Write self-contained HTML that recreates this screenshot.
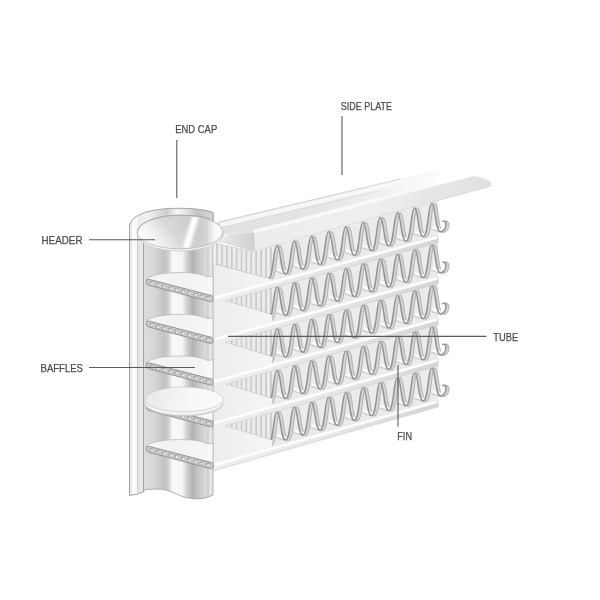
<!DOCTYPE html>
<html><head><meta charset="utf-8"><title>Heat exchanger</title>
<style>html,body{margin:0;padding:0;background:#fff;}body{width:600px;height:600px;overflow:hidden;font-family:"Liberation Sans",sans-serif;}svg{display:block;filter:blur(0.45px);}</style>
</head><body><svg width="600" height="600" viewBox="0 0 600 600">
<defs>
<linearGradient id="gWall" gradientUnits="userSpaceOnUse" x1="143" y1="0" x2="213" y2="0">
 <stop offset="0" stop-color="#dedede"/>
 <stop offset="0.17" stop-color="#d6d6d6"/>
 <stop offset="0.30" stop-color="#c2c2c2"/>
 <stop offset="0.36" stop-color="#cecece"/>
 <stop offset="0.42" stop-color="#f8f8f8"/>
 <stop offset="0.56" stop-color="#f6f6f6"/>
 <stop offset="0.63" stop-color="#d0d0d0"/>
 <stop offset="0.71" stop-color="#b2b2b2"/>
 <stop offset="0.80" stop-color="#c8c8c8"/>
 <stop offset="0.93" stop-color="#dedede"/>
 <stop offset="1" stop-color="#e4e4e4"/>
</linearGradient>
<linearGradient id="gOuter" gradientUnits="userSpaceOnUse" x1="129" y1="0" x2="138" y2="0">
 <stop offset="0" stop-color="#ececec"/>
 <stop offset="0.4" stop-color="#fcfcfc"/>
 <stop offset="1" stop-color="#f6f6f6"/>
</linearGradient>
<linearGradient id="gInner" gradientUnits="userSpaceOnUse" x1="138" y1="0" x2="144" y2="0">
 <stop offset="0" stop-color="#f2f2f2"/>
 <stop offset="1" stop-color="#e4e4e4"/>
</linearGradient>
<linearGradient id="gCap" gradientUnits="userSpaceOnUse" x1="140" y1="247" x2="183" y2="216">
 <stop offset="0" stop-color="#ffffff"/>
 <stop offset="0.3" stop-color="#f6f6f6"/>
 <stop offset="0.65" stop-color="#d9d9d9"/>
 <stop offset="1" stop-color="#cdcdcd"/>
</linearGradient>
<linearGradient id="gCapR" gradientUnits="userSpaceOnUse" x1="200" y1="0" x2="222" y2="0">
 <stop offset="0" stop-color="#ffffff" stop-opacity="0"/>
 <stop offset="0.3" stop-color="#ffffff" stop-opacity="0.15"/>
 <stop offset="0.65" stop-color="#ffffff" stop-opacity="0.85"/>
 <stop offset="1" stop-color="#ffffff" stop-opacity="1"/>
</linearGradient>
<clipPath id="capClip"><ellipse cx="180" cy="232" rx="42.7" ry="16.8"/></clipPath>
<filter id="b2" x="-50%" y="-50%" width="200%" height="200%"><feGaussianBlur stdDeviation="1.6"/></filter>
<filter id="b1" x="-50%" y="-50%" width="200%" height="200%"><feGaussianBlur stdDeviation="0.8"/></filter>
<linearGradient id="gRim" gradientUnits="userSpaceOnUse" x1="129" y1="0" x2="213" y2="0">
 <stop offset="0" stop-color="#e6e6e6"/>
 <stop offset="0.22" stop-color="#f2f2f2"/>
 <stop offset="0.45" stop-color="#cdcdcd"/>
 <stop offset="0.58" stop-color="#f8f8f8"/>
 <stop offset="0.66" stop-color="#e8e8e8"/>
 <stop offset="0.82" stop-color="#c4c4c4"/>
 <stop offset="1" stop-color="#d4d4d4"/>
</linearGradient>
<linearGradient id="gTubeTop" gradientUnits="userSpaceOnUse" x1="147" y1="0" x2="280" y2="0">
 <stop offset="0" stop-color="#f4f4f4"/>
 <stop offset="0.5" stop-color="#ededed"/>
 <stop offset="1" stop-color="#f6f6f6"/>
</linearGradient>
<linearGradient id="gPlateTop" gradientUnits="userSpaceOnUse" x1="219" y1="0" x2="445" y2="0">
 <stop offset="0" stop-color="#e0e0e0"/>
 <stop offset="0.45" stop-color="#e6e6e6"/>
 <stop offset="0.75" stop-color="#f2f2f2"/>
 <stop offset="0.92" stop-color="#fbfbfb"/>
 <stop offset="1" stop-color="#ffffff"/>
</linearGradient>
<linearGradient id="gPlateFront" gradientUnits="userSpaceOnUse" x1="253" y1="0" x2="491" y2="0">
 <stop offset="0" stop-color="#ededed"/>
 <stop offset="0.5" stop-color="#efefef"/>
 <stop offset="0.75" stop-color="#e6e6e6"/>
 <stop offset="1" stop-color="#e1e1e1"/>
</linearGradient>
<linearGradient id="gBaffle" gradientUnits="userSpaceOnUse" x1="144" y1="392" x2="222" y2="408">
 <stop offset="0" stop-color="#e6e6e6"/>
 <stop offset="0.3" stop-color="#f0f0f0"/>
 <stop offset="0.6" stop-color="#f7f7f7"/>
 <stop offset="1" stop-color="#fbfbfb"/>
</linearGradient>
<linearGradient id="gBand" gradientUnits="userSpaceOnUse" x1="213" y1="0" x2="438" y2="0">
 <stop offset="0" stop-color="#efefef"/>
 <stop offset="0.55" stop-color="#e6e6e6"/>
 <stop offset="1" stop-color="#d6d6d6"/>
</linearGradient>
<linearGradient id="gTubeIn" gradientUnits="userSpaceOnUse" x1="147" y1="0" x2="213" y2="0">
 <stop offset="0" stop-color="#f4f4f4"/>
 <stop offset="0.5" stop-color="#f2f2f2"/>
 <stop offset="1" stop-color="#f7f7f7"/>
</linearGradient>
<linearGradient id="gEndFace" gradientUnits="userSpaceOnUse" x1="221" y1="0" x2="254" y2="0">
 <stop offset="0" stop-color="#ececec"/>
 <stop offset="0.45" stop-color="#dcdcdc"/>
 <stop offset="1" stop-color="#d2d2d2"/>
</linearGradient>
<linearGradient id="gHi" gradientUnits="userSpaceOnUse" x1="253" y1="0" x2="474" y2="0">
 <stop offset="0" stop-color="#fbfbfb" stop-opacity="0.9"/>
 <stop offset="0.55" stop-color="#fbfbfb" stop-opacity="0.9"/>
 <stop offset="0.8" stop-color="#fbfbfb" stop-opacity="0"/>
</linearGradient>
</defs>

<path d="M217,222.3 L440,169.5 L474,176 L253,233 L225,234 L221,242 L217,241 Z" fill="url(#gPlateTop)"/>
<path d="M219.5,223 L438,171.5 L440,174 L221,227.5 Z" fill="#f8f8f8" opacity="0.9"/>
<path d="M219,222 L400,179" stroke="#cfcfcf" stroke-width="0.8" fill="none"/>
<path d="M221,227.5 L380,191" stroke="#d8d8d8" stroke-width="0.7" fill="none"/>
<path d="M253,233 L474,176 Q488,178 491,182.5 L491,186 L253,251 Z" fill="url(#gPlateFront)"/>
<path d="M253,231.8 L474,174.8" stroke="url(#gHi)" stroke-width="3.4" fill="none"/>
<path d="M253,251 L491,186" stroke="#d2d2d2" stroke-width="0.8" fill="none"/>
<path d="M227,234.2 L254,232.6 L254,251 L221,241.5 Z" fill="url(#gEndFace)"/>
<path d="M254,232.6 L254,251 L221,241.5" fill="none" stroke="#c4c4c4" stroke-width="0.6"/>
<path d="M262,248.8 L438,201.0 L438,236.0 L262,283.8 Z" fill="#ebebeb"/>
<path d="M214.7,243.0 L253.0,251.7 L272.0,246.5 L272.0,279.0 L268.0,279.5 L214.7,264.0 Z" fill="#ebebeb"/>
<path d="M217.0,244.5 L217.0,263.6 M221.9,245.6 L221.9,264.9 M226.8,246.7 L226.8,266.2 M231.7,247.9 L231.7,267.6 M236.6,249.0 L236.6,268.9 M241.5,250.1 L241.5,270.2 M246.4,251.2 L246.4,271.5 M251.3,252.3 L251.3,272.8 M256.2,251.4 L256.2,274.1 M261.1,250.1 L261.1,275.4 M266.0,248.7 L266.0,276.7 M270.9,247.4 L270.9,278.1 " stroke="#b0b0b0" stroke-width="1.3" fill="none" stroke-linecap="round"/>
<path d="M217.0,244.5 L217.0,263.6 M221.9,245.6 L221.9,264.9 M226.8,246.7 L226.8,266.2 M231.7,247.9 L231.7,267.6 M236.6,249.0 L236.6,268.9 M241.5,250.1 L241.5,270.2 M246.4,251.2 L246.4,271.5 M251.3,252.3 L251.3,272.8 M256.2,251.4 L256.2,274.1 M261.1,250.1 L261.1,275.4 M266.0,248.7 L266.0,276.7 M270.9,247.4 L270.9,278.1 " stroke="#ededed" stroke-width="0.5" fill="none" stroke-linecap="round"/>
<path d="M214.7,264 L266,278 Q271,280 272,275" stroke="#b4b4b4" stroke-width="0.9" fill="none"/>
<path d="M214.7,243 L253,251.7" stroke="#c4c4c4" stroke-width="0.7" fill="none"/>
<clipPath id="rc0"><path d="M262,248.3 L450,197.2 L450,233.7 L262,284.8 Z"/></clipPath>
<g clip-path="url(#rc0)">
<path d="M270.0,278.8 C275.2,278.8 274.8,245.7 278.6,245.7 C282.4,245.7 282.0,274.1 287.2,274.1 C292.4,274.1 292.0,241.1 295.8,241.1 C299.6,241.1 299.2,269.4 304.4,269.4 C309.6,269.4 309.2,236.4 313.0,236.4 C316.8,236.4 316.4,264.7 321.6,264.7 C326.8,264.7 326.4,231.7 330.2,231.7 C334.0,231.7 333.6,260.1 338.8,260.1 C344.0,260.1 343.6,227.0 347.4,227.0 C351.2,227.0 350.8,255.4 356.0,255.4 C361.2,255.4 360.8,222.4 364.6,222.4 C368.4,222.4 368.0,250.7 373.2,250.7 C378.4,250.7 378.0,217.7 381.8,217.7 C385.6,217.7 385.2,246.0 390.4,246.0 C395.6,246.0 395.2,213.0 399.0,213.0 C402.8,213.0 402.4,241.4 407.6,241.4 C412.8,241.4 412.4,208.3 416.2,208.3 C420.0,208.3 419.6,236.7 424.8,236.7 C430.0,236.7 429.6,203.6 433.4,203.6 C437.2,203.6 436.8,232.0 442.0,232.0 C445.5,231.5 447.5,229.0 447.5,224.0 C447.5,222.0 446.0,221.0 444.5,221.5" stroke="#d6d6d6" stroke-width="3" fill="none"/>
<path d="M271.5,279.0 C276.7,279.0 276.3,245.9 280.1,245.9 C283.9,245.9 283.5,274.3 288.7,274.3 C293.9,274.3 293.5,241.3 297.3,241.3 C301.1,241.3 300.7,269.6 305.9,269.6 C311.1,269.6 310.7,236.6 314.5,236.6 C318.3,236.6 317.9,264.9 323.1,264.9 C328.3,264.9 327.9,231.9 331.7,231.9 C335.5,231.9 335.1,260.3 340.3,260.3 C345.5,260.3 345.1,227.2 348.9,227.2 C352.7,227.2 352.3,255.6 357.5,255.6 C362.7,255.6 362.3,222.6 366.1,222.6 C369.9,222.6 369.5,250.9 374.7,250.9 C379.9,250.9 379.5,217.9 383.3,217.9 C387.1,217.9 386.7,246.2 391.9,246.2 C397.1,246.2 396.7,213.2 400.5,213.2 C404.3,213.2 403.9,241.6 409.1,241.6 C414.3,241.6 413.9,208.5 417.7,208.5 C421.5,208.5 421.1,236.9 426.3,236.9 C431.5,236.9 431.1,203.8 434.9,203.8 C438.7,203.8 438.3,232.2 443.5,232.2 C447.0,231.7 449.0,229.2 449.0,224.2 C449.0,222.2 447.5,221.2 446.0,221.7" stroke="#a4a4a4" stroke-width="0.8" fill="none"/>
<path d="M286.6,272.3 L278.6,269.5 M303.8,267.6 L295.8,264.8 M321.0,262.9 L313.0,260.1 M338.2,258.3 L330.2,255.5 M355.4,253.6 L347.4,250.8 M372.6,248.9 L364.6,246.1 M389.8,244.2 L381.8,241.4 M407.0,239.6 L399.0,236.8 M424.2,234.9 L416.2,232.1 M441.4,230.2 L433.4,227.4 " stroke="#fafafa" stroke-width="2.6" fill="none" stroke-linecap="round"/>
<path d="M284.6,274.2 L276.1,271.3 M301.8,269.5 L293.3,266.6 M319.0,264.8 L310.5,261.9 M336.2,260.2 L327.7,257.3 M353.4,255.5 L344.9,252.6 M370.6,250.8 L362.1,247.9 M387.8,246.1 L379.3,243.2 M405.0,241.5 L396.5,238.6 M422.2,236.8 L413.7,233.9 M439.4,232.1 L430.9,229.2 " stroke="#b4b4b4" stroke-width="0.7" fill="none"/>
<path d="M268.4,278.6 C273.6,278.6 273.2,245.5 277.0,245.5 C280.8,245.5 280.4,273.9 285.6,273.9 C290.8,273.9 290.4,240.9 294.2,240.9 C298.0,240.9 297.6,269.2 302.8,269.2 C308.0,269.2 307.6,236.2 311.4,236.2 C315.2,236.2 314.8,264.5 320.0,264.5 C325.2,264.5 324.8,231.5 328.6,231.5 C332.4,231.5 332.0,259.9 337.2,259.9 C342.4,259.9 342.0,226.8 345.8,226.8 C349.6,226.8 349.2,255.2 354.4,255.2 C359.6,255.2 359.2,222.2 363.0,222.2 C366.8,222.2 366.4,250.5 371.6,250.5 C376.8,250.5 376.4,217.5 380.2,217.5 C384.0,217.5 383.6,245.8 388.8,245.8 C394.0,245.8 393.6,212.8 397.4,212.8 C401.2,212.8 400.8,241.2 406.0,241.2 C411.2,241.2 410.8,208.1 414.6,208.1 C418.4,208.1 418.0,236.5 423.2,236.5 C428.4,236.5 428.0,203.4 431.8,203.4 C435.6,203.4 435.2,231.8 440.4,231.8 C443.9,231.3 445.9,228.8 445.9,223.8 C445.9,221.8 444.4,220.8 442.9,221.3" stroke="#939393" stroke-width="1.5" fill="none" stroke-linecap="round"/>
</g>
<path d="M262,290.4 L438,242.0 L438,277.0 L262,325.4 Z" fill="#ebebeb"/>
<path d="M222.0,301.5 L272.0,287.9 L272.0,315.0 L268.0,315.0 L222.0,302.0 Z" fill="#ebebeb"/>
<path d="M231.7,298.8 L231.7,301.7 M236.6,297.5 L236.6,303.2 M241.5,296.1 L241.5,304.7 M246.4,294.8 L246.4,306.2 M251.3,293.5 L251.3,307.7 M256.2,292.2 L256.2,309.2 M261.1,290.8 L261.1,310.7 M266.0,289.5 L266.0,312.2 M270.9,288.2 L270.9,313.7 " stroke="#b0b0b0" stroke-width="1.3" fill="none" stroke-linecap="round"/>
<path d="M231.7,298.8 L231.7,301.7 M236.6,297.5 L236.6,303.2 M241.5,296.1 L241.5,304.7 M246.4,294.8 L246.4,306.2 M251.3,293.5 L251.3,307.7 M256.2,292.2 L256.2,309.2 M261.1,290.8 L261.1,310.7 M266.0,289.5 L266.0,312.2 M270.9,288.2 L270.9,313.7 " stroke="#ededed" stroke-width="0.5" fill="none" stroke-linecap="round"/>
<path d="M224,300.3 L268,313.8 Q271,315.0 272,311.0" stroke="#b8b8b8" stroke-width="0.9" fill="none"/>
<clipPath id="rc1"><path d="M262,289.9 L450,238.2 L450,274.7 L262,326.4 Z"/></clipPath>
<g clip-path="url(#rc1)">
<path d="M270.0,320.4 C275.2,320.4 274.8,287.3 278.6,287.3 C282.4,287.3 282.0,315.6 287.2,315.6 C292.4,315.6 292.0,282.6 295.8,282.6 C299.6,282.6 299.2,310.9 304.4,310.9 C309.6,310.9 309.2,277.8 313.0,277.8 C316.8,277.8 316.4,306.2 321.6,306.2 C326.8,306.2 326.4,273.1 330.2,273.1 C334.0,273.1 333.6,301.4 338.8,301.4 C344.0,301.4 343.6,268.4 347.4,268.4 C351.2,268.4 350.8,296.7 356.0,296.7 C361.2,296.7 360.8,263.6 364.6,263.6 C368.4,263.6 368.0,292.0 373.2,292.0 C378.4,292.0 378.0,258.9 381.8,258.9 C385.6,258.9 385.2,287.2 390.4,287.2 C395.6,287.2 395.2,254.2 399.0,254.2 C402.8,254.2 402.4,282.5 407.6,282.5 C412.8,282.5 412.4,249.4 416.2,249.4 C420.0,249.4 419.6,277.8 424.8,277.8 C430.0,277.8 429.6,244.7 433.4,244.7 C437.2,244.7 436.8,273.0 442.0,273.0 C445.5,272.5 447.5,270.0 447.5,265.0 C447.5,263.0 446.0,262.0 444.5,262.5" stroke="#d6d6d6" stroke-width="3" fill="none"/>
<path d="M271.5,320.6 C276.7,320.6 276.3,287.5 280.1,287.5 C283.9,287.5 283.5,315.8 288.7,315.8 C293.9,315.8 293.5,282.8 297.3,282.8 C301.1,282.8 300.7,311.1 305.9,311.1 C311.1,311.1 310.7,278.0 314.5,278.0 C318.3,278.0 317.9,306.4 323.1,306.4 C328.3,306.4 327.9,273.3 331.7,273.3 C335.5,273.3 335.1,301.6 340.3,301.6 C345.5,301.6 345.1,268.6 348.9,268.6 C352.7,268.6 352.3,296.9 357.5,296.9 C362.7,296.9 362.3,263.8 366.1,263.8 C369.9,263.8 369.5,292.2 374.7,292.2 C379.9,292.2 379.5,259.1 383.3,259.1 C387.1,259.1 386.7,287.4 391.9,287.4 C397.1,287.4 396.7,254.4 400.5,254.4 C404.3,254.4 403.9,282.7 409.1,282.7 C414.3,282.7 413.9,249.6 417.7,249.6 C421.5,249.6 421.1,278.0 426.3,278.0 C431.5,278.0 431.1,244.9 434.9,244.9 C438.7,244.9 438.3,273.2 443.5,273.2 C447.0,272.7 449.0,270.2 449.0,265.2 C449.0,263.2 447.5,262.2 446.0,262.7" stroke="#a4a4a4" stroke-width="0.8" fill="none"/>
<path d="M286.6,313.8 L278.6,311.0 M303.8,309.1 L295.8,306.3 M321.0,304.4 L313.0,301.6 M338.2,299.6 L330.2,296.8 M355.4,294.9 L347.4,292.1 M372.6,290.2 L364.6,287.4 M389.8,285.4 L381.8,282.6 M407.0,280.7 L399.0,277.9 M424.2,276.0 L416.2,273.2 M441.4,271.2 L433.4,268.4 " stroke="#fafafa" stroke-width="2.6" fill="none" stroke-linecap="round"/>
<path d="M284.6,315.7 L276.1,312.8 M301.8,311.0 L293.3,308.1 M319.0,306.3 L310.5,303.4 M336.2,301.5 L327.7,298.6 M353.4,296.8 L344.9,293.9 M370.6,292.1 L362.1,289.2 M387.8,287.3 L379.3,284.4 M405.0,282.6 L396.5,279.7 M422.2,277.9 L413.7,275.0 M439.4,273.1 L430.9,270.2 " stroke="#b4b4b4" stroke-width="0.7" fill="none"/>
<path d="M268.4,320.2 C273.6,320.2 273.2,287.1 277.0,287.1 C280.8,287.1 280.4,315.4 285.6,315.4 C290.8,315.4 290.4,282.4 294.2,282.4 C298.0,282.4 297.6,310.7 302.8,310.7 C308.0,310.7 307.6,277.6 311.4,277.6 C315.2,277.6 314.8,306.0 320.0,306.0 C325.2,306.0 324.8,272.9 328.6,272.9 C332.4,272.9 332.0,301.2 337.2,301.2 C342.4,301.2 342.0,268.2 345.8,268.2 C349.6,268.2 349.2,296.5 354.4,296.5 C359.6,296.5 359.2,263.4 363.0,263.4 C366.8,263.4 366.4,291.8 371.6,291.8 C376.8,291.8 376.4,258.7 380.2,258.7 C384.0,258.7 383.6,287.0 388.8,287.0 C394.0,287.0 393.6,254.0 397.4,254.0 C401.2,254.0 400.8,282.3 406.0,282.3 C411.2,282.3 410.8,249.2 414.6,249.2 C418.4,249.2 418.0,277.6 423.2,277.6 C428.4,277.6 428.0,244.5 431.8,244.5 C435.6,244.5 435.2,272.8 440.4,272.8 C443.9,272.3 445.9,269.8 445.9,264.8 C445.9,262.8 444.4,261.8 442.9,262.3" stroke="#939393" stroke-width="1.5" fill="none" stroke-linecap="round"/>
</g>
<path d="M262,332.0 L438,283.1 L438,318.1 L262,367.0 Z" fill="#ebebeb"/>
<path d="M222.0,343.2 L272.0,329.6 L272.0,356.8 L268.0,356.8 L222.0,343.7 Z" fill="#ebebeb"/>
<path d="M231.7,340.6 L231.7,343.4 M236.6,339.2 L236.6,344.9 M241.5,337.9 L241.5,346.4 M246.4,336.6 L246.4,347.9 M251.3,335.2 L251.3,349.4 M256.2,333.9 L256.2,350.9 M261.1,332.6 L261.1,352.4 M266.0,331.2 L266.0,353.9 M270.9,329.9 L270.9,355.4 " stroke="#b0b0b0" stroke-width="1.3" fill="none" stroke-linecap="round"/>
<path d="M231.7,340.6 L231.7,343.4 M236.6,339.2 L236.6,344.9 M241.5,337.9 L241.5,346.4 M246.4,336.6 L246.4,347.9 M251.3,335.2 L251.3,349.4 M256.2,333.9 L256.2,350.9 M261.1,332.6 L261.1,352.4 M266.0,331.2 L266.0,353.9 M270.9,329.9 L270.9,355.4 " stroke="#ededed" stroke-width="0.5" fill="none" stroke-linecap="round"/>
<path d="M224,342.1 L268,355.6 Q271,356.8 272,352.8" stroke="#b8b8b8" stroke-width="0.9" fill="none"/>
<clipPath id="rc2"><path d="M262,331.5 L450,279.2 L450,315.7 L262,368.0 Z"/></clipPath>
<g clip-path="url(#rc2)">
<path d="M270.0,361.9 C275.2,361.9 274.8,328.8 278.6,328.8 C282.4,328.8 282.0,357.2 287.2,357.2 C292.4,357.2 292.0,324.1 295.8,324.1 C299.6,324.1 299.2,352.4 304.4,352.4 C309.6,352.4 309.2,319.3 313.0,319.3 C316.8,319.3 316.4,347.6 321.6,347.6 C326.8,347.6 326.4,314.5 330.2,314.5 C334.0,314.5 333.6,342.8 338.8,342.8 C344.0,342.8 343.6,309.7 347.4,309.7 C351.2,309.7 350.8,338.0 356.0,338.0 C361.2,338.0 360.8,304.9 364.6,304.9 C368.4,304.9 368.0,333.2 373.2,333.2 C378.4,333.2 378.0,300.1 381.8,300.1 C385.6,300.1 385.2,328.4 390.4,328.4 C395.6,328.4 395.2,295.3 399.0,295.3 C402.8,295.3 402.4,323.7 407.6,323.7 C412.8,323.7 412.4,290.6 416.2,290.6 C420.0,290.6 419.6,318.9 424.8,318.9 C430.0,318.9 429.6,285.8 433.4,285.8 C437.2,285.8 436.8,314.1 442.0,314.1 C445.5,313.6 447.5,311.1 447.5,306.1 C447.5,304.1 446.0,303.1 444.5,303.6" stroke="#d6d6d6" stroke-width="3" fill="none"/>
<path d="M271.5,362.1 C276.7,362.1 276.3,329.0 280.1,329.0 C283.9,329.0 283.5,357.4 288.7,357.4 C293.9,357.4 293.5,324.3 297.3,324.3 C301.1,324.3 300.7,352.6 305.9,352.6 C311.1,352.6 310.7,319.5 314.5,319.5 C318.3,319.5 317.9,347.8 323.1,347.8 C328.3,347.8 327.9,314.7 331.7,314.7 C335.5,314.7 335.1,343.0 340.3,343.0 C345.5,343.0 345.1,309.9 348.9,309.9 C352.7,309.9 352.3,338.2 357.5,338.2 C362.7,338.2 362.3,305.1 366.1,305.1 C369.9,305.1 369.5,333.4 374.7,333.4 C379.9,333.4 379.5,300.3 383.3,300.3 C387.1,300.3 386.7,328.6 391.9,328.6 C397.1,328.6 396.7,295.5 400.5,295.5 C404.3,295.5 403.9,323.9 409.1,323.9 C414.3,323.9 413.9,290.8 417.7,290.8 C421.5,290.8 421.1,319.1 426.3,319.1 C431.5,319.1 431.1,286.0 434.9,286.0 C438.7,286.0 438.3,314.3 443.5,314.3 C447.0,313.8 449.0,311.3 449.0,306.3 C449.0,304.3 447.5,303.3 446.0,303.8" stroke="#a4a4a4" stroke-width="0.8" fill="none"/>
<path d="M286.6,355.4 L278.6,352.6 M303.8,350.6 L295.8,347.8 M321.0,345.8 L313.0,343.0 M338.2,341.0 L330.2,338.2 M355.4,336.2 L347.4,333.4 M372.6,331.4 L364.6,328.6 M389.8,326.6 L381.8,323.8 M407.0,321.9 L399.0,319.1 M424.2,317.1 L416.2,314.3 M441.4,312.3 L433.4,309.5 " stroke="#fafafa" stroke-width="2.6" fill="none" stroke-linecap="round"/>
<path d="M284.6,357.3 L276.1,354.4 M301.8,352.5 L293.3,349.6 M319.0,347.7 L310.5,344.8 M336.2,342.9 L327.7,340.0 M353.4,338.1 L344.9,335.2 M370.6,333.3 L362.1,330.4 M387.8,328.5 L379.3,325.6 M405.0,323.8 L396.5,320.9 M422.2,319.0 L413.7,316.1 M439.4,314.2 L430.9,311.3 " stroke="#b4b4b4" stroke-width="0.7" fill="none"/>
<path d="M268.4,361.7 C273.6,361.7 273.2,328.6 277.0,328.6 C280.8,328.6 280.4,357.0 285.6,357.0 C290.8,357.0 290.4,323.9 294.2,323.9 C298.0,323.9 297.6,352.2 302.8,352.2 C308.0,352.2 307.6,319.1 311.4,319.1 C315.2,319.1 314.8,347.4 320.0,347.4 C325.2,347.4 324.8,314.3 328.6,314.3 C332.4,314.3 332.0,342.6 337.2,342.6 C342.4,342.6 342.0,309.5 345.8,309.5 C349.6,309.5 349.2,337.8 354.4,337.8 C359.6,337.8 359.2,304.7 363.0,304.7 C366.8,304.7 366.4,333.0 371.6,333.0 C376.8,333.0 376.4,299.9 380.2,299.9 C384.0,299.9 383.6,328.2 388.8,328.2 C394.0,328.2 393.6,295.1 397.4,295.1 C401.2,295.1 400.8,323.5 406.0,323.5 C411.2,323.5 410.8,290.4 414.6,290.4 C418.4,290.4 418.0,318.7 423.2,318.7 C428.4,318.7 428.0,285.6 431.8,285.6 C435.6,285.6 435.2,313.9 440.4,313.9 C443.9,313.4 445.9,310.9 445.9,305.9 C445.9,303.9 444.4,302.9 442.9,303.4" stroke="#939393" stroke-width="1.5" fill="none" stroke-linecap="round"/>
</g>
<path d="M262,373.6 L438,324.1 L438,359.1 L262,408.6 Z" fill="#ebebeb"/>
<path d="M222.0,385.0 L272.0,371.4 L272.0,398.5 L268.0,398.5 L222.0,385.5 Z" fill="#ebebeb"/>
<path d="M231.7,382.3 L231.7,385.2 M236.6,381.0 L236.6,386.7 M241.5,379.6 L241.5,388.2 M246.4,378.3 L246.4,389.7 M251.3,377.0 L251.3,391.2 M256.2,375.7 L256.2,392.7 M261.1,374.3 L261.1,394.2 M266.0,373.0 L266.0,395.7 M270.9,371.7 L270.9,397.2 " stroke="#b0b0b0" stroke-width="1.3" fill="none" stroke-linecap="round"/>
<path d="M231.7,382.3 L231.7,385.2 M236.6,381.0 L236.6,386.7 M241.5,379.6 L241.5,388.2 M246.4,378.3 L246.4,389.7 M251.3,377.0 L251.3,391.2 M256.2,375.7 L256.2,392.7 M261.1,374.3 L261.1,394.2 M266.0,373.0 L266.0,395.7 M270.9,371.7 L270.9,397.2 " stroke="#ededed" stroke-width="0.5" fill="none" stroke-linecap="round"/>
<path d="M224,383.8 L268,397.3 Q271,398.5 272,394.5" stroke="#b8b8b8" stroke-width="0.9" fill="none"/>
<clipPath id="rc3"><path d="M262,373.1 L450,320.2 L450,356.7 L262,409.6 Z"/></clipPath>
<g clip-path="url(#rc3)">
<path d="M270.0,403.5 C275.2,403.5 274.8,370.4 278.6,370.4 C282.4,370.4 282.0,398.7 287.2,398.7 C292.4,398.7 292.0,365.6 295.8,365.6 C299.6,365.6 299.2,393.8 304.4,393.8 C309.6,393.8 309.2,360.7 313.0,360.7 C316.8,360.7 316.4,389.0 321.6,389.0 C326.8,389.0 326.4,355.9 330.2,355.9 C334.0,355.9 333.6,384.2 338.8,384.2 C344.0,384.2 343.6,351.0 347.4,351.0 C351.2,351.0 350.8,379.3 356.0,379.3 C361.2,379.3 360.8,346.2 364.6,346.2 C368.4,346.2 368.0,374.5 373.2,374.5 C378.4,374.5 378.0,341.4 381.8,341.4 C385.6,341.4 385.2,369.6 390.4,369.6 C395.6,369.6 395.2,336.5 399.0,336.5 C402.8,336.5 402.4,364.8 407.6,364.8 C412.8,364.8 412.4,331.7 416.2,331.7 C420.0,331.7 419.6,360.0 424.8,360.0 C430.0,360.0 429.6,326.8 433.4,326.8 C437.2,326.8 436.8,355.1 442.0,355.1 C445.5,354.6 447.5,352.1 447.5,347.1 C447.5,345.1 446.0,344.1 444.5,344.6" stroke="#d6d6d6" stroke-width="3" fill="none"/>
<path d="M271.5,403.7 C276.7,403.7 276.3,370.6 280.1,370.6 C283.9,370.6 283.5,398.9 288.7,398.9 C293.9,398.9 293.5,365.8 297.3,365.8 C301.1,365.8 300.7,394.0 305.9,394.0 C311.1,394.0 310.7,360.9 314.5,360.9 C318.3,360.9 317.9,389.2 323.1,389.2 C328.3,389.2 327.9,356.1 331.7,356.1 C335.5,356.1 335.1,384.4 340.3,384.4 C345.5,384.4 345.1,351.2 348.9,351.2 C352.7,351.2 352.3,379.5 357.5,379.5 C362.7,379.5 362.3,346.4 366.1,346.4 C369.9,346.4 369.5,374.7 374.7,374.7 C379.9,374.7 379.5,341.6 383.3,341.6 C387.1,341.6 386.7,369.8 391.9,369.8 C397.1,369.8 396.7,336.7 400.5,336.7 C404.3,336.7 403.9,365.0 409.1,365.0 C414.3,365.0 413.9,331.9 417.7,331.9 C421.5,331.9 421.1,360.2 426.3,360.2 C431.5,360.2 431.1,327.0 434.9,327.0 C438.7,327.0 438.3,355.3 443.5,355.3 C447.0,354.8 449.0,352.3 449.0,347.3 C449.0,345.3 447.5,344.3 446.0,344.8" stroke="#a4a4a4" stroke-width="0.8" fill="none"/>
<path d="M286.6,396.9 L278.6,394.1 M303.8,392.0 L295.8,389.2 M321.0,387.2 L313.0,384.4 M338.2,382.4 L330.2,379.6 M355.4,377.5 L347.4,374.7 M372.6,372.7 L364.6,369.9 M389.8,367.8 L381.8,365.0 M407.0,363.0 L399.0,360.2 M424.2,358.2 L416.2,355.4 M441.4,353.3 L433.4,350.5 " stroke="#fafafa" stroke-width="2.6" fill="none" stroke-linecap="round"/>
<path d="M284.6,398.8 L276.1,395.9 M301.8,393.9 L293.3,391.0 M319.0,389.1 L310.5,386.2 M336.2,384.3 L327.7,381.4 M353.4,379.4 L344.9,376.5 M370.6,374.6 L362.1,371.7 M387.8,369.7 L379.3,366.8 M405.0,364.9 L396.5,362.0 M422.2,360.1 L413.7,357.2 M439.4,355.2 L430.9,352.3 " stroke="#b4b4b4" stroke-width="0.7" fill="none"/>
<path d="M268.4,403.3 C273.6,403.3 273.2,370.2 277.0,370.2 C280.8,370.2 280.4,398.5 285.6,398.5 C290.8,398.5 290.4,365.4 294.2,365.4 C298.0,365.4 297.6,393.6 302.8,393.6 C308.0,393.6 307.6,360.5 311.4,360.5 C315.2,360.5 314.8,388.8 320.0,388.8 C325.2,388.8 324.8,355.7 328.6,355.7 C332.4,355.7 332.0,384.0 337.2,384.0 C342.4,384.0 342.0,350.8 345.8,350.8 C349.6,350.8 349.2,379.1 354.4,379.1 C359.6,379.1 359.2,346.0 363.0,346.0 C366.8,346.0 366.4,374.3 371.6,374.3 C376.8,374.3 376.4,341.2 380.2,341.2 C384.0,341.2 383.6,369.4 388.8,369.4 C394.0,369.4 393.6,336.3 397.4,336.3 C401.2,336.3 400.8,364.6 406.0,364.6 C411.2,364.6 410.8,331.5 414.6,331.5 C418.4,331.5 418.0,359.8 423.2,359.8 C428.4,359.8 428.0,326.6 431.8,326.6 C435.6,326.6 435.2,354.9 440.4,354.9 C443.9,354.4 445.9,351.9 445.9,346.9 C445.9,344.9 444.4,343.9 442.9,344.4" stroke="#939393" stroke-width="1.5" fill="none" stroke-linecap="round"/>
</g>
<path d="M262,415.2 L438,365.2 L438,400.2 L262,450.2 Z" fill="#ebebeb"/>
<path d="M222.0,426.7 L272.0,413.1 L272.0,440.2 L268.0,440.2 L222.0,427.2 Z" fill="#ebebeb"/>
<path d="M231.7,424.1 L231.7,426.9 M236.6,422.7 L236.6,428.4 M241.5,421.4 L241.5,429.9 M246.4,420.1 L246.4,431.4 M251.3,418.7 L251.3,432.9 M256.2,417.4 L256.2,434.4 M261.1,416.1 L261.1,435.9 M266.0,414.7 L266.0,437.4 M270.9,413.4 L270.9,438.9 " stroke="#b0b0b0" stroke-width="1.3" fill="none" stroke-linecap="round"/>
<path d="M231.7,424.1 L231.7,426.9 M236.6,422.7 L236.6,428.4 M241.5,421.4 L241.5,429.9 M246.4,420.1 L246.4,431.4 M251.3,418.7 L251.3,432.9 M256.2,417.4 L256.2,434.4 M261.1,416.1 L261.1,435.9 M266.0,414.7 L266.0,437.4 M270.9,413.4 L270.9,438.9 " stroke="#ededed" stroke-width="0.5" fill="none" stroke-linecap="round"/>
<path d="M224,425.6 L268,439.1 Q271,440.2 272,436.2" stroke="#b8b8b8" stroke-width="0.9" fill="none"/>
<clipPath id="rc4"><path d="M262,414.7 L450,361.2 L450,397.7 L262,451.2 Z"/></clipPath>
<g clip-path="url(#rc4)">
<path d="M270.0,445.1 C275.2,445.1 274.8,411.9 278.6,411.9 C282.4,411.9 282.0,440.2 287.2,440.2 C292.4,440.2 292.0,407.1 295.8,407.1 C299.6,407.1 299.2,435.3 304.4,435.3 C309.6,435.3 309.2,402.2 313.0,402.2 C316.8,402.2 316.4,430.4 321.6,430.4 C326.8,430.4 326.4,397.3 330.2,397.3 C334.0,397.3 333.6,425.5 338.8,425.5 C344.0,425.5 343.6,392.4 347.4,392.4 C351.2,392.4 350.8,420.6 356.0,420.6 C361.2,420.6 360.8,387.5 364.6,387.5 C368.4,387.5 368.0,415.7 373.2,415.7 C378.4,415.7 378.0,382.6 381.8,382.6 C385.6,382.6 385.2,410.8 390.4,410.8 C395.6,410.8 395.2,377.7 399.0,377.7 C402.8,377.7 402.4,406.0 407.6,406.0 C412.8,406.0 412.4,372.8 416.2,372.8 C420.0,372.8 419.6,401.1 424.8,401.1 C430.0,401.1 429.6,367.9 433.4,367.9 C437.2,367.9 436.8,396.2 442.0,396.2 C445.5,395.7 447.5,393.2 447.5,388.2 C447.5,386.2 446.0,385.2 444.5,385.7" stroke="#d6d6d6" stroke-width="3" fill="none"/>
<path d="M271.5,445.3 C276.7,445.3 276.3,412.1 280.1,412.1 C283.9,412.1 283.5,440.4 288.7,440.4 C293.9,440.4 293.5,407.3 297.3,407.3 C301.1,407.3 300.7,435.5 305.9,435.5 C311.1,435.5 310.7,402.4 314.5,402.4 C318.3,402.4 317.9,430.6 323.1,430.6 C328.3,430.6 327.9,397.5 331.7,397.5 C335.5,397.5 335.1,425.7 340.3,425.7 C345.5,425.7 345.1,392.6 348.9,392.6 C352.7,392.6 352.3,420.8 357.5,420.8 C362.7,420.8 362.3,387.7 366.1,387.7 C369.9,387.7 369.5,415.9 374.7,415.9 C379.9,415.9 379.5,382.8 383.3,382.8 C387.1,382.8 386.7,411.0 391.9,411.0 C397.1,411.0 396.7,377.9 400.5,377.9 C404.3,377.9 403.9,406.2 409.1,406.2 C414.3,406.2 413.9,373.0 417.7,373.0 C421.5,373.0 421.1,401.3 426.3,401.3 C431.5,401.3 431.1,368.1 434.9,368.1 C438.7,368.1 438.3,396.4 443.5,396.4 C447.0,395.9 449.0,393.4 449.0,388.4 C449.0,386.4 447.5,385.4 446.0,385.9" stroke="#a4a4a4" stroke-width="0.8" fill="none"/>
<path d="M286.6,438.4 L278.6,435.6 M303.8,433.5 L295.8,430.7 M321.0,428.6 L313.0,425.8 M338.2,423.7 L330.2,420.9 M355.4,418.8 L347.4,416.0 M372.6,413.9 L364.6,411.1 M389.8,409.0 L381.8,406.2 M407.0,404.2 L399.0,401.4 M424.2,399.3 L416.2,396.5 M441.4,394.4 L433.4,391.6 " stroke="#fafafa" stroke-width="2.6" fill="none" stroke-linecap="round"/>
<path d="M284.6,440.3 L276.1,437.4 M301.8,435.4 L293.3,432.5 M319.0,430.5 L310.5,427.6 M336.2,425.6 L327.7,422.7 M353.4,420.7 L344.9,417.8 M370.6,415.8 L362.1,412.9 M387.8,410.9 L379.3,408.0 M405.0,406.1 L396.5,403.2 M422.2,401.2 L413.7,398.3 M439.4,396.3 L430.9,393.4 " stroke="#b4b4b4" stroke-width="0.7" fill="none"/>
<path d="M268.4,444.9 C273.6,444.9 273.2,411.7 277.0,411.7 C280.8,411.7 280.4,440.0 285.6,440.0 C290.8,440.0 290.4,406.9 294.2,406.9 C298.0,406.9 297.6,435.1 302.8,435.1 C308.0,435.1 307.6,402.0 311.4,402.0 C315.2,402.0 314.8,430.2 320.0,430.2 C325.2,430.2 324.8,397.1 328.6,397.1 C332.4,397.1 332.0,425.3 337.2,425.3 C342.4,425.3 342.0,392.2 345.8,392.2 C349.6,392.2 349.2,420.4 354.4,420.4 C359.6,420.4 359.2,387.3 363.0,387.3 C366.8,387.3 366.4,415.5 371.6,415.5 C376.8,415.5 376.4,382.4 380.2,382.4 C384.0,382.4 383.6,410.6 388.8,410.6 C394.0,410.6 393.6,377.5 397.4,377.5 C401.2,377.5 400.8,405.8 406.0,405.8 C411.2,405.8 410.8,372.6 414.6,372.6 C418.4,372.6 418.0,400.9 423.2,400.9 C428.4,400.9 428.0,367.7 431.8,367.7 C435.6,367.7 435.2,396.0 440.4,396.0 C443.9,395.5 445.9,393.0 445.9,388.0 C445.9,386.0 444.4,385.0 442.9,385.5" stroke="#939393" stroke-width="1.5" fill="none" stroke-linecap="round"/>
</g>
<path d="M213.0,264.0 L272.0,279.5 L272.0,281.1 L213.0,297.0 Z" fill="url(#gTubeTop)"/>
<path d="M213,297.2 L438,236.0 L438,242.7 L213,303.9 Z" fill="url(#gBand)"/>
<path d="M213,298.4 L438,237.2" stroke="#fdfdfd" stroke-width="2.6" fill="none"/>
<path d="M213,303.9 L438,242.7" stroke="#c9c9c9" stroke-width="0.6" fill="none"/>
<path d="M438,236.0 L438,242.7" stroke="#bdbdbd" stroke-width="0.7" fill="none"/>
<path d="M213.0,303.0 L224.0,300.3 L272.0,315.0 L272.0,322.9 L213.0,338.8 Z" fill="url(#gTubeTop)"/>
<path d="M213,338.9 L438,277.0 L438,283.8 L213,345.7 Z" fill="url(#gBand)"/>
<path d="M213,340.1 L438,278.2" stroke="#fdfdfd" stroke-width="2.6" fill="none"/>
<path d="M213,345.7 L438,283.8" stroke="#c9c9c9" stroke-width="0.6" fill="none"/>
<path d="M438,277.0 L438,283.8" stroke="#bdbdbd" stroke-width="0.7" fill="none"/>
<path d="M213.0,344.8 L224.0,342.1 L272.0,356.8 L272.0,364.6 L213.0,380.5 Z" fill="url(#gTubeTop)"/>
<path d="M213,380.7 L438,318.1 L438,324.8 L213,387.4 Z" fill="url(#gBand)"/>
<path d="M213,381.9 L438,319.3" stroke="#fdfdfd" stroke-width="2.6" fill="none"/>
<path d="M213,387.4 L438,324.8" stroke="#c9c9c9" stroke-width="0.6" fill="none"/>
<path d="M438,318.1 L438,324.8" stroke="#bdbdbd" stroke-width="0.7" fill="none"/>
<path d="M213.0,386.5 L224.0,383.8 L272.0,398.5 L272.0,406.4 L213.0,422.2 Z" fill="url(#gTubeTop)"/>
<path d="M213,422.4 L438,359.1 L438,365.9 L213,429.2 Z" fill="url(#gBand)"/>
<path d="M213,423.6 L438,360.3" stroke="#fdfdfd" stroke-width="2.6" fill="none"/>
<path d="M213,429.2 L438,365.9" stroke="#c9c9c9" stroke-width="0.6" fill="none"/>
<path d="M438,359.1 L438,365.9" stroke="#bdbdbd" stroke-width="0.7" fill="none"/>
<path d="M213.0,428.2 L224.0,425.6 L272.0,440.2 L272.0,448.1 L213.0,464.0 Z" fill="url(#gTubeTop)"/>
<path d="M213,464.2 L438,400.2 L438,406.9 L213,470.9 Z" fill="url(#gBand)"/>
<path d="M213,465.4 L438,401.4" stroke="#fdfdfd" stroke-width="2.6" fill="none"/>
<path d="M213,470.9 L438,406.9" stroke="#c9c9c9" stroke-width="0.6" fill="none"/>
<path d="M438,400.2 L438,406.9" stroke="#bdbdbd" stroke-width="0.7" fill="none"/>
<path d="M143.5,232 L143.5,492 L145,489.5 L158,489 C168,489 174,493.5 184,497 C192,499 200,500 208,497 L213,495 L213,221 Z" fill="url(#gWall)"/>
<path d="M208,221 L213,221 L213,495 L208,497 Z" fill="#e4e4e4"/>
<path d="M208,240 L208,497" stroke="#b4b4b4" stroke-width="0.7" fill="none"/>
<path d="M213,213 L213,495" stroke="#a8a8a8" stroke-width="0.8" fill="none"/>
<path d="M143.5,492 L145,489.5 L158,489 C168,489 174,493.5 184,497 C192,499 200,500 208,497 L213,495" stroke="#a6a6a6" stroke-width="0.9" fill="none"/>
<path d="M146.5,278.5 C154,274.0 166,272.6 179,272.6 C192,272.3 201,274.0 208,277.0 L213,276.0 L213,296.0 L146.5,279.5 Z" fill="url(#gTubeIn)" stroke="#b4b4b4" stroke-width="0.7"/>
<path d="M148.5,279.2 L211.5,295.6 Q213.5,296.4 213.3,298.8 Q213.3,302.2 210.5,301.6 L148.5,285.2 Q146,284.4 146.2,281.8 Q146.3,278.8 148.5,279.2 Z" fill="#cbcbcb" stroke="#8f8f8f" stroke-width="0.9"/>
<rect x="149.4" y="281.3" width="4.4" height="3.6" rx="1.2" fill="#a6a6a6" transform="rotate(14.6 151.6 283.1)"/>
<ellipse cx="152.0" cy="283.5" rx="1.5" ry="1.2" fill="#e6e6e6"/>
<rect x="155.7" y="282.9" width="4.4" height="3.6" rx="1.2" fill="#a6a6a6" transform="rotate(14.6 157.9 284.7)"/>
<ellipse cx="158.3" cy="285.1" rx="1.5" ry="1.2" fill="#e6e6e6"/>
<rect x="161.9" y="284.6" width="4.4" height="3.6" rx="1.2" fill="#a6a6a6" transform="rotate(14.6 164.1 286.4)"/>
<ellipse cx="164.5" cy="286.8" rx="1.5" ry="1.2" fill="#e6e6e6"/>
<rect x="168.2" y="286.2" width="4.4" height="3.6" rx="1.2" fill="#a6a6a6" transform="rotate(14.6 170.4 288.0)"/>
<ellipse cx="170.8" cy="288.4" rx="1.5" ry="1.2" fill="#e6e6e6"/>
<rect x="174.4" y="287.8" width="4.4" height="3.6" rx="1.2" fill="#a6a6a6" transform="rotate(14.6 176.6 289.6)"/>
<ellipse cx="177.0" cy="290.0" rx="1.5" ry="1.2" fill="#e6e6e6"/>
<rect x="180.7" y="289.5" width="4.4" height="3.6" rx="1.2" fill="#a6a6a6" transform="rotate(14.6 182.9 291.3)"/>
<ellipse cx="183.3" cy="291.7" rx="1.5" ry="1.2" fill="#e6e6e6"/>
<rect x="186.9" y="291.1" width="4.4" height="3.6" rx="1.2" fill="#a6a6a6" transform="rotate(14.6 189.1 292.9)"/>
<ellipse cx="189.5" cy="293.3" rx="1.5" ry="1.2" fill="#e6e6e6"/>
<rect x="193.2" y="292.7" width="4.4" height="3.6" rx="1.2" fill="#a6a6a6" transform="rotate(14.6 195.4 294.5)"/>
<ellipse cx="195.8" cy="294.9" rx="1.5" ry="1.2" fill="#e6e6e6"/>
<rect x="199.4" y="294.4" width="4.4" height="3.6" rx="1.2" fill="#a6a6a6" transform="rotate(14.6 201.6 296.2)"/>
<ellipse cx="202.0" cy="296.6" rx="1.5" ry="1.2" fill="#e6e6e6"/>
<rect x="205.7" y="296.0" width="4.4" height="3.6" rx="1.2" fill="#a6a6a6" transform="rotate(14.6 207.9 297.8)"/>
<ellipse cx="208.3" cy="298.2" rx="1.5" ry="1.2" fill="#e6e6e6"/>
<path d="M146.5,320.2 C154,315.8 166,314.4 179,314.4 C192,314.1 201,315.8 208,318.8 L213,317.8 L213,337.8 L146.5,321.2 Z" fill="url(#gTubeIn)" stroke="#b4b4b4" stroke-width="0.7"/>
<path d="M148.5,320.9 L211.5,337.4 Q213.5,338.1 213.3,340.6 Q213.3,343.9 210.5,343.4 L148.5,326.9 Q146,326.1 146.2,323.6 Q146.3,320.6 148.5,320.9 Z" fill="#cbcbcb" stroke="#8f8f8f" stroke-width="0.9"/>
<rect x="149.4" y="323.1" width="4.4" height="3.6" rx="1.2" fill="#a6a6a6" transform="rotate(14.6 151.6 324.9)"/>
<ellipse cx="152.0" cy="325.3" rx="1.5" ry="1.2" fill="#e6e6e6"/>
<rect x="155.7" y="324.7" width="4.4" height="3.6" rx="1.2" fill="#a6a6a6" transform="rotate(14.6 157.9 326.5)"/>
<ellipse cx="158.3" cy="326.9" rx="1.5" ry="1.2" fill="#e6e6e6"/>
<rect x="161.9" y="326.3" width="4.4" height="3.6" rx="1.2" fill="#a6a6a6" transform="rotate(14.6 164.1 328.1)"/>
<ellipse cx="164.5" cy="328.5" rx="1.5" ry="1.2" fill="#e6e6e6"/>
<rect x="168.2" y="328.0" width="4.4" height="3.6" rx="1.2" fill="#a6a6a6" transform="rotate(14.6 170.4 329.8)"/>
<ellipse cx="170.8" cy="330.2" rx="1.5" ry="1.2" fill="#e6e6e6"/>
<rect x="174.4" y="329.6" width="4.4" height="3.6" rx="1.2" fill="#a6a6a6" transform="rotate(14.6 176.6 331.4)"/>
<ellipse cx="177.0" cy="331.8" rx="1.5" ry="1.2" fill="#e6e6e6"/>
<rect x="180.7" y="331.2" width="4.4" height="3.6" rx="1.2" fill="#a6a6a6" transform="rotate(14.6 182.9 333.0)"/>
<ellipse cx="183.3" cy="333.4" rx="1.5" ry="1.2" fill="#e6e6e6"/>
<rect x="186.9" y="332.8" width="4.4" height="3.6" rx="1.2" fill="#a6a6a6" transform="rotate(14.6 189.1 334.6)"/>
<ellipse cx="189.5" cy="335.0" rx="1.5" ry="1.2" fill="#e6e6e6"/>
<rect x="193.2" y="334.5" width="4.4" height="3.6" rx="1.2" fill="#a6a6a6" transform="rotate(14.6 195.4 336.3)"/>
<ellipse cx="195.8" cy="336.7" rx="1.5" ry="1.2" fill="#e6e6e6"/>
<rect x="199.4" y="336.1" width="4.4" height="3.6" rx="1.2" fill="#a6a6a6" transform="rotate(14.6 201.6 337.9)"/>
<ellipse cx="202.0" cy="338.3" rx="1.5" ry="1.2" fill="#e6e6e6"/>
<rect x="205.7" y="337.7" width="4.4" height="3.6" rx="1.2" fill="#a6a6a6" transform="rotate(14.6 207.9 339.5)"/>
<ellipse cx="208.3" cy="339.9" rx="1.5" ry="1.2" fill="#e6e6e6"/>
<path d="M146.5,362.0 C154,357.5 166,356.1 179,356.1 C192,355.8 201,357.5 208,360.5 L213,359.5 L213,379.5 L146.5,363.0 Z" fill="url(#gTubeIn)" stroke="#b4b4b4" stroke-width="0.7"/>
<path d="M148.5,362.7 L211.5,379.1 Q213.5,379.9 213.3,382.3 Q213.3,385.7 210.5,385.1 L148.5,368.7 Q146,367.9 146.2,365.3 Q146.3,362.3 148.5,362.7 Z" fill="#cbcbcb" stroke="#8f8f8f" stroke-width="0.9"/>
<rect x="149.4" y="364.8" width="4.4" height="3.6" rx="1.2" fill="#a6a6a6" transform="rotate(14.6 151.6 366.6)"/>
<ellipse cx="152.0" cy="367.0" rx="1.5" ry="1.2" fill="#e6e6e6"/>
<rect x="155.7" y="366.4" width="4.4" height="3.6" rx="1.2" fill="#a6a6a6" transform="rotate(14.6 157.9 368.2)"/>
<ellipse cx="158.3" cy="368.6" rx="1.5" ry="1.2" fill="#e6e6e6"/>
<rect x="161.9" y="368.1" width="4.4" height="3.6" rx="1.2" fill="#a6a6a6" transform="rotate(14.6 164.1 369.9)"/>
<ellipse cx="164.5" cy="370.3" rx="1.5" ry="1.2" fill="#e6e6e6"/>
<rect x="168.2" y="369.7" width="4.4" height="3.6" rx="1.2" fill="#a6a6a6" transform="rotate(14.6 170.4 371.5)"/>
<ellipse cx="170.8" cy="371.9" rx="1.5" ry="1.2" fill="#e6e6e6"/>
<rect x="174.4" y="371.3" width="4.4" height="3.6" rx="1.2" fill="#a6a6a6" transform="rotate(14.6 176.6 373.1)"/>
<ellipse cx="177.0" cy="373.5" rx="1.5" ry="1.2" fill="#e6e6e6"/>
<rect x="180.7" y="373.0" width="4.4" height="3.6" rx="1.2" fill="#a6a6a6" transform="rotate(14.6 182.9 374.8)"/>
<ellipse cx="183.3" cy="375.2" rx="1.5" ry="1.2" fill="#e6e6e6"/>
<rect x="186.9" y="374.6" width="4.4" height="3.6" rx="1.2" fill="#a6a6a6" transform="rotate(14.6 189.1 376.4)"/>
<ellipse cx="189.5" cy="376.8" rx="1.5" ry="1.2" fill="#e6e6e6"/>
<rect x="193.2" y="376.2" width="4.4" height="3.6" rx="1.2" fill="#a6a6a6" transform="rotate(14.6 195.4 378.0)"/>
<ellipse cx="195.8" cy="378.4" rx="1.5" ry="1.2" fill="#e6e6e6"/>
<rect x="199.4" y="377.9" width="4.4" height="3.6" rx="1.2" fill="#a6a6a6" transform="rotate(14.6 201.6 379.7)"/>
<ellipse cx="202.0" cy="380.1" rx="1.5" ry="1.2" fill="#e6e6e6"/>
<rect x="205.7" y="379.5" width="4.4" height="3.6" rx="1.2" fill="#a6a6a6" transform="rotate(14.6 207.9 381.3)"/>
<ellipse cx="208.3" cy="381.7" rx="1.5" ry="1.2" fill="#e6e6e6"/>
<path d="M146.5,403.8 C154,399.2 166,397.9 179,397.9 C192,397.6 201,399.2 208,402.2 L213,401.2 L213,421.2 L146.5,404.8 Z" fill="url(#gTubeIn)" stroke="#b4b4b4" stroke-width="0.7"/>
<path d="M148.5,404.4 L211.5,420.9 Q213.5,421.6 213.3,424.1 Q213.3,427.4 210.5,426.9 L148.5,410.4 Q146,409.6 146.2,407.1 Q146.3,404.1 148.5,404.4 Z" fill="#cbcbcb" stroke="#8f8f8f" stroke-width="0.9"/>
<rect x="149.4" y="406.6" width="4.4" height="3.6" rx="1.2" fill="#a6a6a6" transform="rotate(14.6 151.6 408.4)"/>
<ellipse cx="152.0" cy="408.8" rx="1.5" ry="1.2" fill="#e6e6e6"/>
<rect x="155.7" y="408.2" width="4.4" height="3.6" rx="1.2" fill="#a6a6a6" transform="rotate(14.6 157.9 410.0)"/>
<ellipse cx="158.3" cy="410.4" rx="1.5" ry="1.2" fill="#e6e6e6"/>
<rect x="161.9" y="409.8" width="4.4" height="3.6" rx="1.2" fill="#a6a6a6" transform="rotate(14.6 164.1 411.6)"/>
<ellipse cx="164.5" cy="412.0" rx="1.5" ry="1.2" fill="#e6e6e6"/>
<rect x="168.2" y="411.5" width="4.4" height="3.6" rx="1.2" fill="#a6a6a6" transform="rotate(14.6 170.4 413.3)"/>
<ellipse cx="170.8" cy="413.7" rx="1.5" ry="1.2" fill="#e6e6e6"/>
<rect x="174.4" y="413.1" width="4.4" height="3.6" rx="1.2" fill="#a6a6a6" transform="rotate(14.6 176.6 414.9)"/>
<ellipse cx="177.0" cy="415.3" rx="1.5" ry="1.2" fill="#e6e6e6"/>
<rect x="180.7" y="414.7" width="4.4" height="3.6" rx="1.2" fill="#a6a6a6" transform="rotate(14.6 182.9 416.5)"/>
<ellipse cx="183.3" cy="416.9" rx="1.5" ry="1.2" fill="#e6e6e6"/>
<rect x="186.9" y="416.3" width="4.4" height="3.6" rx="1.2" fill="#a6a6a6" transform="rotate(14.6 189.1 418.1)"/>
<ellipse cx="189.5" cy="418.5" rx="1.5" ry="1.2" fill="#e6e6e6"/>
<rect x="193.2" y="418.0" width="4.4" height="3.6" rx="1.2" fill="#a6a6a6" transform="rotate(14.6 195.4 419.8)"/>
<ellipse cx="195.8" cy="420.2" rx="1.5" ry="1.2" fill="#e6e6e6"/>
<rect x="199.4" y="419.6" width="4.4" height="3.6" rx="1.2" fill="#a6a6a6" transform="rotate(14.6 201.6 421.4)"/>
<ellipse cx="202.0" cy="421.8" rx="1.5" ry="1.2" fill="#e6e6e6"/>
<rect x="205.7" y="421.2" width="4.4" height="3.6" rx="1.2" fill="#a6a6a6" transform="rotate(14.6 207.9 423.0)"/>
<ellipse cx="208.3" cy="423.4" rx="1.5" ry="1.2" fill="#e6e6e6"/>
<path d="M146.5,445.5 C154,441.0 166,439.6 179,439.6 C192,439.3 201,441.0 208,444.0 L213,443.0 L213,463.0 L146.5,446.5 Z" fill="url(#gTubeIn)" stroke="#b4b4b4" stroke-width="0.7"/>
<path d="M148.5,446.2 L211.5,462.6 Q213.5,463.4 213.3,465.8 Q213.3,469.2 210.5,468.6 L148.5,452.2 Q146,451.4 146.2,448.8 Q146.3,445.8 148.5,446.2 Z" fill="#cbcbcb" stroke="#8f8f8f" stroke-width="0.9"/>
<rect x="149.4" y="448.3" width="4.4" height="3.6" rx="1.2" fill="#a6a6a6" transform="rotate(14.6 151.6 450.1)"/>
<ellipse cx="152.0" cy="450.5" rx="1.5" ry="1.2" fill="#e6e6e6"/>
<rect x="155.7" y="449.9" width="4.4" height="3.6" rx="1.2" fill="#a6a6a6" transform="rotate(14.6 157.9 451.7)"/>
<ellipse cx="158.3" cy="452.1" rx="1.5" ry="1.2" fill="#e6e6e6"/>
<rect x="161.9" y="451.6" width="4.4" height="3.6" rx="1.2" fill="#a6a6a6" transform="rotate(14.6 164.1 453.4)"/>
<ellipse cx="164.5" cy="453.8" rx="1.5" ry="1.2" fill="#e6e6e6"/>
<rect x="168.2" y="453.2" width="4.4" height="3.6" rx="1.2" fill="#a6a6a6" transform="rotate(14.6 170.4 455.0)"/>
<ellipse cx="170.8" cy="455.4" rx="1.5" ry="1.2" fill="#e6e6e6"/>
<rect x="174.4" y="454.8" width="4.4" height="3.6" rx="1.2" fill="#a6a6a6" transform="rotate(14.6 176.6 456.6)"/>
<ellipse cx="177.0" cy="457.0" rx="1.5" ry="1.2" fill="#e6e6e6"/>
<rect x="180.7" y="456.5" width="4.4" height="3.6" rx="1.2" fill="#a6a6a6" transform="rotate(14.6 182.9 458.3)"/>
<ellipse cx="183.3" cy="458.7" rx="1.5" ry="1.2" fill="#e6e6e6"/>
<rect x="186.9" y="458.1" width="4.4" height="3.6" rx="1.2" fill="#a6a6a6" transform="rotate(14.6 189.1 459.9)"/>
<ellipse cx="189.5" cy="460.3" rx="1.5" ry="1.2" fill="#e6e6e6"/>
<rect x="193.2" y="459.7" width="4.4" height="3.6" rx="1.2" fill="#a6a6a6" transform="rotate(14.6 195.4 461.5)"/>
<ellipse cx="195.8" cy="461.9" rx="1.5" ry="1.2" fill="#e6e6e6"/>
<rect x="199.4" y="461.4" width="4.4" height="3.6" rx="1.2" fill="#a6a6a6" transform="rotate(14.6 201.6 463.2)"/>
<ellipse cx="202.0" cy="463.6" rx="1.5" ry="1.2" fill="#e6e6e6"/>
<rect x="205.7" y="463.0" width="4.4" height="3.6" rx="1.2" fill="#a6a6a6" transform="rotate(14.6 207.9 464.8)"/>
<ellipse cx="208.3" cy="465.2" rx="1.5" ry="1.2" fill="#e6e6e6"/>
<ellipse cx="183.7" cy="403.3" rx="39.3" ry="12.6" fill="#e9e9e9" stroke="#b8b8b8" stroke-width="0.8"/>
<ellipse cx="183.7" cy="401.5" rx="39.3" ry="12.5" fill="#f6f6f6"/>
<ellipse cx="183.7" cy="399.4" rx="39.3" ry="12.4" fill="url(#gBaffle)" stroke="#c6c6c6" stroke-width="0.7"/>
<path d="M129.5,232 L129.5,225 C131,214 152,208.3 178,208.3 C192,208.3 206,209.5 213,212.5 L213,222 L143.5,240 Z" fill="url(#gRim)"/>
<path d="M129.5,225 C131,219 134,216 137.7,214 L137.7,494 L129.5,495.5 Z" fill="url(#gOuter)"/>
<path d="M137.7,232 C138,226 140,223 143.5,221 L143.5,492 L137.7,494 Z" fill="url(#gInner)"/>
<path d="M129.5,225 L129.5,495.5 L137.7,494 L143.5,492" stroke="#a0a0a0" stroke-width="1" fill="none"/>
<path d="M137.7,231 L137.7,494" stroke="#bcbcbc" stroke-width="0.8" fill="none"/>
<path d="M139.3,234 L139.3,493.5" stroke="#d4d4d4" stroke-width="0.7" fill="none"/>
<path d="M131.2,222 L131.2,495" stroke="#d6d6d6" stroke-width="0.7" fill="none"/>
<path d="M143.5,236 L143.5,492" stroke="#9a9a9a" stroke-width="0.9" fill="none"/>
<ellipse cx="180" cy="234.5" rx="42.7" ry="16.5" fill="#f3f3f3" stroke="#c4c4c4" stroke-width="0.7"/>
<ellipse cx="180" cy="232" rx="42.7" ry="16.8" fill="url(#gCap)"/>
<g clip-path="url(#capClip)"><path d="M193,214 L199.5,214.5 L189,249 L182.5,248.5 Z" fill="#ffffff" filter="url(#b2)"/><rect x="200" y="210" width="30" height="45" fill="url(#gCapR)"/></g>
<ellipse cx="180" cy="232" rx="42.7" ry="16.8" fill="none" stroke="#b6b6b6" stroke-width="0.8"/>
<path d="M129.5,226 C131,214 152,208.3 178,208.3 C192,208.3 206,209.5 213,212.5 L213,221" stroke="#a2a2a2" stroke-width="1" fill="none"/>
<path d="M137.3,233 C137.5,224 154,215.2 180,215.2 C194,215.2 204,216.5 210.5,219" stroke="#a8a8a8" stroke-width="0.9" fill="none"/>
<path d="M176.8,140 L176.8,198 M342,116 L342,175 M89,239.8 L155,239.8 M89,367.5 L195,367.5 M228,336.4 L486.5,336.4 M398,365 L398,426.5" stroke="#5a5a5a" stroke-width="1.1" fill="none"/>
<text x="175.2" y="132.8" textLength="42" lengthAdjust="spacingAndGlyphs" font-family="Liberation Sans, sans-serif" font-size="10.3" fill="#4c4c4c" stroke="#4c4c4c" stroke-width="0.25">END CAP</text>
<text x="340.8" y="110" textLength="51.2" lengthAdjust="spacingAndGlyphs" font-family="Liberation Sans, sans-serif" font-size="10.3" fill="#4c4c4c" stroke="#4c4c4c" stroke-width="0.25">SIDE PLATE</text>
<text x="41.5" y="244.3" textLength="41" lengthAdjust="spacingAndGlyphs" font-family="Liberation Sans, sans-serif" font-size="10.3" fill="#4c4c4c" stroke="#4c4c4c" stroke-width="0.25">HEADER</text>
<text x="40.5" y="371.5" textLength="42.5" lengthAdjust="spacingAndGlyphs" font-family="Liberation Sans, sans-serif" font-size="10.3" fill="#4c4c4c" stroke="#4c4c4c" stroke-width="0.25">BAFFLES</text>
<text x="493.3" y="340.6" textLength="24.8" lengthAdjust="spacingAndGlyphs" font-family="Liberation Sans, sans-serif" font-size="10.3" fill="#4c4c4c" stroke="#4c4c4c" stroke-width="0.25">TUBE</text>
<text x="397.3" y="440.2" textLength="14.7" lengthAdjust="spacingAndGlyphs" font-family="Liberation Sans, sans-serif" font-size="10.3" fill="#4c4c4c" stroke="#4c4c4c" stroke-width="0.25">FIN</text></svg></body></html>
